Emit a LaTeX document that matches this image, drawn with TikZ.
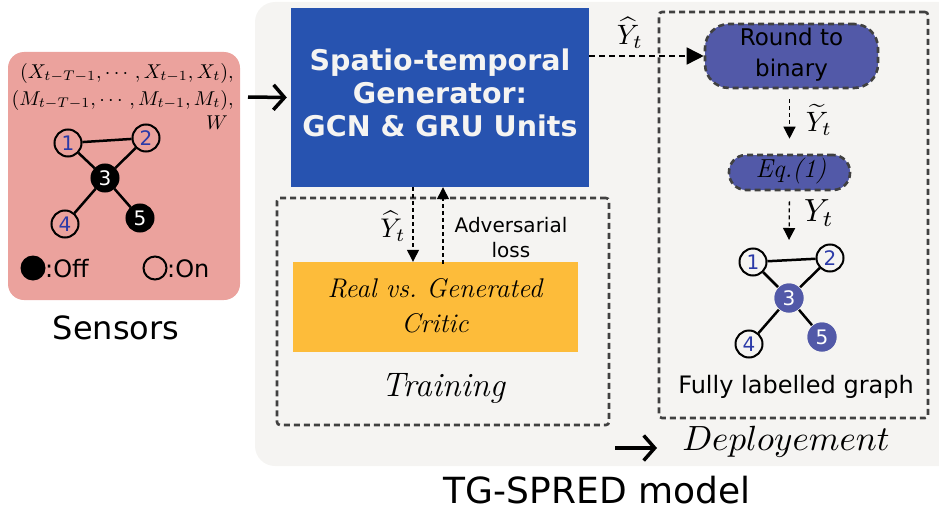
\documentclass[tikz,border=0pt]{standalone}
\usepackage{amsmath}
\usepackage{graphicx}
\usepackage{fontspec}
\newfontfamily\dv{DejaVu Sans}
\usetikzlibrary{arrows.meta}
\definecolor{pinkbg}{HTML}{EBA29D}
\definecolor{graybg}{HTML}{F5F4F2}
\definecolor{genblue}{HTML}{2753B0}
\definecolor{critic}{HTML}{FDBC3A}
\definecolor{purp}{HTML}{5259A8}
\definecolor{numblue}{HTML}{2B3AA8}
\definecolor{dashgray}{HTML}{404040}
\newcommand{\fs}[1]{\fontsize{#1}{#1}\selectfont}
\newcommand{\ms}[2]{\scalebox{#1}{$#2$}}
\tikzset{
  dbox/.style={draw=dashgray, line width=2.6pt, dash pattern=on 6pt off 4pt, rounded corners=3pt},
  darrow/.style={draw=black, line width=1.3pt, dash pattern=on 4pt off 3pt, -{Triangle[length=12pt,width=12pt]}},
  barrow/.style={draw=black, line width=3.5pt, -{Straight Barb[length=11pt,width=25pt,line width=3.5pt]}},
  gnode/.style={circle, draw=black, line width=2pt, minimum size=27pt, inner sep=0pt, text=numblue, font=\dv\fs{20}},
  goff/.style={gnode, fill=black, text=white},
  gon/.style={gnode, fill=graybg},
  glab/.style={gnode, draw=none, fill=purp, text=white, minimum size=29pt},
  gedge/.style={line width=2.5pt},
  sanslab/.style={font=\dv\fs{24}, text=black, align=center},
  mlab/.style={inner sep=0pt}
}
\begin{document}
\begin{tikzpicture}[x=1pt,y=-1pt]
\useasboundingbox (0,0) rectangle (939,519);
\begin{scope}
\clip (0,0) rectangle (939,519);
\fill[graybg, rounded corners=20pt] (255,2) rectangle (980,466);
\end{scope}
% sensors
\node[fill=pinkbg, rounded corners=16pt, minimum width=232pt, minimum height=248pt, inner sep=0pt] (sens) at (124,176) {};
\node[anchor=east, inner sep=0pt] (xs) at (234,73) {\ms{2}{(X_{t-T-1},\cdots,X_{t-1},X_t),}};
\node[anchor=east, inner sep=0pt] (ms) at (234,100) {\ms{2}{(M_{t-T-1},\cdots,M_{t-1},M_t),}};
\node[anchor=east, inner sep=0pt] (ws) at (228,123) {\ms{2}{W}};
\node[gnode] (a1) at (68,143) {1};
\node[gnode] (a2) at (146,138) {2};
\node[goff] (a3) at (105,178) {3};
\node[gnode] (a4) at (65,224) {4};
\node[goff] (a5) at (140,218) {5};
\draw[gedge] (a1) -- (a2) (a1) -- (a3) (a2) -- (a3) (a3) -- (a4) (a3) -- (a5);
\node[circle, fill=black, minimum size=25pt, inner sep=0pt] (offc) at (33,268) {};
\node[sanslab, anchor=west, inner sep=0pt] (offt) at (45,269) {:Off};
\node[circle, draw=black, line width=2pt, minimum size=23pt, inner sep=0pt] (onc) at (155,268) {};
\node[sanslab, anchor=west, inner sep=0pt] (ont) at (167,269) {:On};
\node[font=\dv\fs{32}] (senslab) at (116,328) {Sensors};
% generator
\node[fill=genblue, minimum width=298pt, minimum height=179pt, inner sep=0pt] (gen) at (440,97.5) {};
\node[font=\dv\bfseries\fontsize{28.5}{33}\selectfont, text=graybg, align=center] (gent) at (440,93) {Spatio-temporal\\Generator:\\GCN \& GRU Units};
\coordinate (inl) at (248,97);
\draw[barrow] (inl) -- ([xshift=-4pt]gen.west);
% training
\node[dbox, minimum width=332pt, minimum height=227pt, inner sep=0pt] (train) at (443,311.5) {};
\node[fill=critic, minimum width=285pt, minimum height=90pt, inner sep=0pt] (crit) at (435.5,307) {};
\node[align=center, font=\itshape\fontsize{27}{35}\selectfont] (critt) at (435,306) {Real vs.\ Generated\\Critic};
\node[font=\itshape\fs{34}] (traint) at (443,388) {Training};
\draw[darrow] ([xshift=-27pt]gen.south) -- ([xshift=-22.5pt]crit.north);
\node[mlab] (yh1) at (393,226) {\ms{2.7}{\widehat{Y}_t}};
\draw[darrow] ([xshift=7.5pt,yshift=-2pt]crit.north) -- ([xshift=3pt]gen.south);
\node[font=\dv\fontsize{20}{25}\selectfont, align=center] (adv) at (511,238) {Adversarial\\loss};
% deployment
\node[dbox, minimum width=269pt, minimum height=406pt, inner sep=0pt] (dep) at (793.5,215) {};
\node[dbox, fill=purp, rounded corners=24pt, minimum width=173pt, minimum height=64pt, inner sep=0pt] (rb) at (791.5,56) {};
\node[font=\dv\fontsize{23}{31}\selectfont, align=center] (rbt) at (791.5,55) {Round to\\binary};
\draw[darrow, dash pattern=on 6pt off 4pt, line width=1.6pt, -{Triangle[length=17pt,width=17pt]}] (gen.east |- rb.west) -- (rb.west);
\node[mlab] (yh2) at (630,33) {\ms{2.8}{\widehat{Y}_t}};
\node[dbox, fill=purp, rounded corners=17pt, minimum width=121pt, minimum height=35pt, inner sep=0pt] (eq) at (789.5,172.5) {};
\node[font=\itshape\fs{26}] (eqt) at (791,171) {Eq.(1)};
\draw[darrow, shorten <=10pt, shorten >=15pt] (rb.south -| eq.north) -- (eq.north);
\node[mlab] (yt1) at (819,120) {\ms{2.8}{\widetilde{Y}_t}};
\node[glab] (b3) at (789,298) {3};
\coordinate (gtop) at (789,240);
\draw[darrow, shorten <=10pt] (eq.south) -- (gtop);
\node[mlab] (yt2) at (819,213) {\ms{3.2}{Y_t}};
\node[gon] (b1) at (753,262) {1};
\node[gon] (b2) at (830,258) {2};
\node[gon] (b4) at (749,344) {4};
\node[glab] (b5) at (822,337) {5};
\draw[gedge] (b1) -- (b2) (b1) -- (b3) (b2) -- (b3) (b3) -- (b4) (b3) -- (b5);
\node[glab] at (b3) {3};
\node[glab] at (b5) {5};
\node[font=\dv\fs{24}] (flg) at (796,387) {Fully labelled graph};
\coordinate (da) at (615,448);
\coordinate (db) at (657,448);
\draw[barrow] (da) -- (db);
\node (dept) at (786,442) {\ms{3.5}{Deployement}};
\node[font=\dv\fs{36}] (model) at (597,490) {TG-SPRED model};
\end{tikzpicture}
\end{document}
